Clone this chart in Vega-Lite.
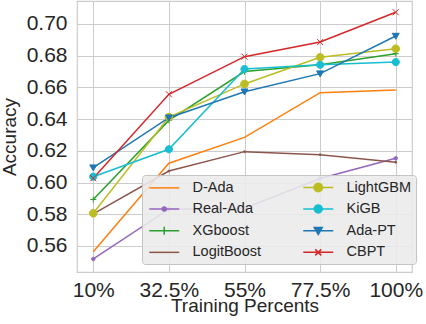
{
  "$schema": "https://vega.github.io/schema/vega-lite/v6.json",
  "width": 335,
  "height": 271,
  "autosize": {"type": "none"},
  "padding": {"left": 77, "top": 1, "right": 14, "bottom": 52},
  "background": "white",
  "data": {
    "values": [
      {"model": "D-Ada", "pct": "10%", "acc": 0.5564},
      {"model": "D-Ada", "pct": "32.5%", "acc": 0.6122},
      {"model": "D-Ada", "pct": "55%", "acc": 0.6285},
      {"model": "D-Ada", "pct": "77.5%", "acc": 0.6567},
      {"model": "D-Ada", "pct": "100%", "acc": 0.6584},
      {"model": "Real-Ada", "pct": "10%", "acc": 0.5518},
      {"model": "Real-Ada", "pct": "32.5%", "acc": 0.5832},
      {"model": "Real-Ada", "pct": "55%", "acc": 0.5838},
      {"model": "Real-Ada", "pct": "77.5%", "acc": 0.6026},
      {"model": "Real-Ada", "pct": "100%", "acc": 0.6153},
      {"model": "XGboost", "pct": "10%", "acc": 0.5893},
      {"model": "XGboost", "pct": "32.5%", "acc": 0.6392},
      {"model": "XGboost", "pct": "55%", "acc": 0.6700},
      {"model": "XGboost", "pct": "77.5%", "acc": 0.6743},
      {"model": "XGboost", "pct": "100%", "acc": 0.6813},
      {"model": "LogitBoost", "pct": "10%", "acc": 0.5802},
      {"model": "LogitBoost", "pct": "32.5%", "acc": 0.6073},
      {"model": "LogitBoost", "pct": "55%", "acc": 0.6195},
      {"model": "LogitBoost", "pct": "77.5%", "acc": 0.6176},
      {"model": "LogitBoost", "pct": "100%", "acc": 0.6128},
      {"model": "LightGBM", "pct": "10%", "acc": 0.5806},
      {"model": "LightGBM", "pct": "32.5%", "acc": 0.6413},
      {"model": "LightGBM", "pct": "55%", "acc": 0.6622},
      {"model": "LightGBM", "pct": "77.5%", "acc": 0.6790},
      {"model": "LightGBM", "pct": "100%", "acc": 0.6844},
      {"model": "KiGB", "pct": "10%", "acc": 0.6037},
      {"model": "KiGB", "pct": "32.5%", "acc": 0.6210},
      {"model": "KiGB", "pct": "55%", "acc": 0.6716},
      {"model": "KiGB", "pct": "77.5%", "acc": 0.6743},
      {"model": "KiGB", "pct": "100%", "acc": 0.6760},
      {"model": "Ada-PT", "pct": "10%", "acc": 0.6094},
      {"model": "Ada-PT", "pct": "32.5%", "acc": 0.6409},
      {"model": "Ada-PT", "pct": "55%", "acc": 0.6573},
      {"model": "Ada-PT", "pct": "77.5%", "acc": 0.6687},
      {"model": "Ada-PT", "pct": "100%", "acc": 0.6924},
      {"model": "CBPT", "pct": "10%", "acc": 0.6027},
      {"model": "CBPT", "pct": "32.5%", "acc": 0.6557},
      {"model": "CBPT", "pct": "55%", "acc": 0.6794},
      {"model": "CBPT", "pct": "77.5%", "acc": 0.6886},
      {"model": "CBPT", "pct": "100%", "acc": 0.7074}
    ]
  },
  "config": {
    "font": "Liberation Sans",
    "view": {"stroke": "#cccccc", "strokeWidth": 1.2},
    "axis": {
      "domain": false,
      "ticks": false,
      "tickSize": 0,
      "grid": true,
      "gridColor": "#cccccc",
      "gridWidth": 1,
      "labelOverlap": false,
      "labelColor": "#262626",
      "titleColor": "#262626",
      "labelFont": "Liberation Sans",
      "titleFont": "Liberation Sans",
      "labelFontSize": 21,
      "titleFontSize": 19,
      "titleFontWeight": "normal"
    }
  },
  "encoding": {
    "x": {
      "field": "pct",
      "type": "ordinal",
      "scale": {"type": "point", "domain": ["10%", "32.5%", "55%", "77.5%", "100%"], "padding": 0.215},
      "axis": {"title": "Training Percents", "labelAngle": 0, "labelPadding": 24, "labelBaseline": "alphabetic", "titleY": 39.5, "titleBaseline": "alphabetic", "labelOverlap": false}
    },
    "y": {
      "field": "acc",
      "type": "quantitative",
      "scale": {"domain": [0.5436, 0.7145], "nice": false, "zero": false},
      "axis": {"title": "Accuracy", "values": [0.56, 0.58, 0.6, 0.62, 0.64, 0.66, 0.68, 0.7], "format": ".2f", "labelOverlap": false, "labelFlush": false, "labelBound": false, "labelSeparation": 0, "labelPadding": 10, "titleX": -62, "titleY": 135.5, "titleAngle": -90, "titleBaseline": "alphabetic", "titleAlign": "center"}
    }
  },
  "layer": [
    {
      "mark": {"type": "line", "strokeWidth": 1.5},
      "encoding": {
        "color": {
          "field": "model",
          "type": "nominal",
          "scale": {
            "domain": ["D-Ada", "Real-Ada", "XGboost", "LogitBoost", "LightGBM", "KiGB", "Ada-PT", "CBPT"],
            "range": ["#ff7f0e", "#9467bd", "#2ca02c", "#8c564b", "#bcbd22", "#17becf", "#1f77b4", "#d62728"]
          },
          "legend": {
            "title": null,
            "orient": "none",
            "legendX": 65,
            "legendY": 174,
            "columns": 2,
            "padding": 5,
            "rowPadding": 5.7,
            "columnPadding": 38,
            "fillColor": "rgba(234,234,234,0.88)",
            "strokeColor": "#c4c4c4",
            "cornerRadius": 3,
            "labelFontSize": 14.5,
            "labelColor": "#262626",
            "labelFont": "Liberation Sans",
            "symbolSize": 100,
            "symbolOffset": 10,
            "labelOffset": 21,
            "encode": {
              "symbols": {
                "update": {
                  "shape": {"signal": "datum.value === 'D-Ada' ? 'M-3,0H3' : datum.value === 'Real-Ada' ? 'M-3,0H3M-0.4,0A0.4,0.4,0,1,1,0.4,0A0.4,0.4,0,1,1,-0.4,0Z' : datum.value === 'XGboost' ? 'M-3,0H3M0,-0.8V0.8' : datum.value === 'LogitBoost' ? 'M-3,0H3' : datum.value === 'LightGBM' ? 'M-3,0H3M-0.85,0A0.85,0.85,0,1,1,0.85,0A0.85,0.85,0,1,1,-0.85,0Z' : datum.value === 'KiGB' ? 'M-3,0H3M-0.8,0A0.8,0.8,0,1,1,0.8,0A0.8,0.8,0,1,1,-0.8,0Z' : datum.value === 'Ada-PT' ? 'M-3,0H3M-0.8,-0.65L0.8,-0.65L0,0.75Z' : 'M-3,0H3M-0.6,-0.6L0.6,0.6M-0.6,0.6L0.6,-0.6'"},
                  "fill": {"scale": "color", "field": "value"},
                  "stroke": {"scale": "color", "field": "value"},
                  "strokeWidth": {"value": 1.5},
                  "opacity": {"value": 1}
                }
              }
            }
          }
        }
      }
    },
    {
      "transform": [{"filter": "datum.model !== 'D-Ada'"}],
      "mark": {"type": "point", "size": 100, "strokeWidth": 1, "opacity": 1},
      "encoding": {
        "shape": {
          "field": "model",
          "type": "nominal",
          "scale": {
            "domain": ["Real-Ada", "XGboost", "LogitBoost", "LightGBM", "KiGB", "Ada-PT", "CBPT"],
            "range": [
              "M-0.36,0A0.36,0.36,0,1,1,0.36,0A0.36,0.36,0,1,1,-0.36,0Z",
              "M-0.6,0H0.6M0,-0.6V0.6",
              "M-0.2,0A0.2,0.2,0,1,1,0.2,0A0.2,0.2,0,1,1,-0.2,0Z",
              "M-0.76,0A0.76,0.76,0,1,1,0.76,0A0.76,0.76,0,1,1,-0.76,0Z",
              "M-0.72,0A0.72,0.72,0,1,1,0.72,0A0.72,0.72,0,1,1,-0.72,0Z",
              "M-0.7,-0.55L0.7,-0.55L0,0.65Z",
              "M-0.6,-0.6L0.6,0.6M-0.6,0.6L0.6,-0.6"
            ]
          },
          "legend": null
        },
        "fill": {
          "field": "model",
          "type": "nominal",
          "scale": {
            "domain": ["Real-Ada", "XGboost", "LogitBoost", "LightGBM", "KiGB", "Ada-PT", "CBPT"],
            "range": ["#9467bd", "#2ca02c", "#8c564b", "#bcbd22", "#17becf", "#1f77b4", "#d62728"]
          },
          "legend": null
        },
        "stroke": {
          "field": "model",
          "type": "nominal",
          "scale": {
            "domain": ["Real-Ada", "XGboost", "LogitBoost", "LightGBM", "KiGB", "Ada-PT", "CBPT"],
            "range": ["#9467bd", "#2ca02c", "#8c564b", "#bcbd22", "#17becf", "#1f77b4", "#d62728"]
          },
          "legend": null
        }
      }
    }
  ]
}
